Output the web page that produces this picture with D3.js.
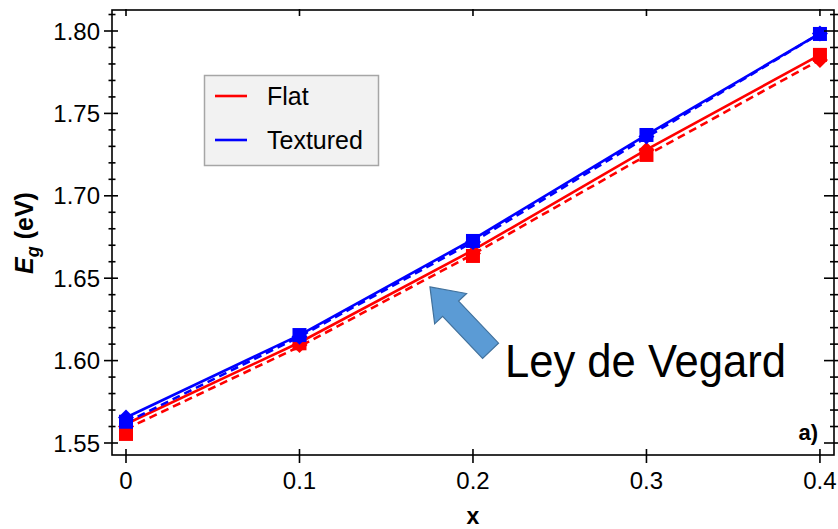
<!DOCTYPE html>
<html><head><meta charset="utf-8">
<script src="https://cdn.jsdelivr.net/npm/d3@7/dist/d3.min.js"></script>
<style>body{margin:0;background:#fff;} svg{display:block;font-family:"Liberation Sans",Arial,sans-serif;}</style>
</head><body>
<svg id="c" width="838" height="529"></svg>
<script>
const xValues = [0, 0.1, 0.2, 0.3, 0.4];
const xTickLabels = ["0", "0.1", "0.2", "0.3", "0.4"];
const yTickValues = [1.55, 1.60, 1.65, 1.70, 1.75, 1.80];
const yTickLabels = ["1.55", "1.60", "1.65", "1.70", "1.75", "1.80"];
// lines
const flatSolid   = [1.5615, 1.6110, 1.6670, 1.7280, 1.7855];
const flatDashed  = [1.5585, 1.6085, 1.6645, 1.7245, 1.7825];
const texSolid    = [1.5655, 1.6155, 1.6735, 1.7370, 1.7985];
const texDashed   = [1.5625, 1.6145, 1.6720, 1.7355, 1.7985];
// markers
const flatSquares  = [1.5555, 1.6105, 1.6635, 1.7248, 1.7855];
const flatDiamonds = [1.5600, 1.6095, 1.6650, 1.7278, 1.7824];
const texSquares   = [1.5629, 1.6155, 1.6726, 1.7369, 1.7982];
const texDiamonds  = [1.5655, 1.6145, 1.6720, 1.7360, 1.7985];
const legendLabels = ["Flat", "Textured"];
const colors = {flat: "#ff0000", tex: "#0000ff"};

const svg = d3.select("#c");
const L = 112, R = 834, T = 10, B = 455;
const x = d3.scaleLinear().domain([-0.00807, 0.4081]).range([L, R]);
const y = d3.scaleLinear().domain([1.55, 1.80]).range([443, 31]);

const line = d3.line().x((d, i) => x(xValues[i])).y(d => y(d));
function drawLine(vals, color, dashed) {
  svg.append("path").datum(vals).attr("d", line)
    .attr("fill", "none").attr("stroke", color).attr("stroke-width", 2.6)
    .attr("stroke-dasharray", dashed ? "8,5" : null);
}
function drawSquares(vals, color) {
  svg.append("g").selectAll("rect").data(vals).join("rect")
    .attr("x", (d, i) => x(xValues[i]) - 7).attr("y", d => y(d) - 7)
    .attr("width", 14).attr("height", 14).attr("fill", color);
}
function drawDiamonds(vals, color) {
  svg.append("g").selectAll("path").data(vals).join("path")
    .attr("d", (d, i) => { const cx = x(xValues[i]), cy = y(d), r = 8;
      return `M${cx},${cy - r}L${cx + r},${cy}L${cx},${cy + r}L${cx - r},${cy}Z`; })
    .attr("fill", color);
}
drawLine(flatDashed, colors.flat, true);
drawLine(flatSolid, colors.flat, false);
drawSquares(flatSquares, colors.flat);
drawDiamonds(flatDiamonds, colors.flat);
drawLine(texDashed, colors.tex, true);
drawLine(texSolid, colors.tex, false);
drawSquares(texSquares, colors.tex);
drawDiamonds(texDiamonds, colors.tex);

// frame
const ax = svg.append("g").attr("stroke", "#000").attr("stroke-width", 1.6).attr("fill", "none");
ax.append("rect").attr("x", L).attr("y", T).attr("width", R - L).attr("height", B - T);

const yMinor = d3.range(0, 27).map(i => 1.55 + i * 0.01).filter(v => y(v) >= T && !yTickValues.some(t => Math.abs(t - v) < 1e-6));
yTickValues.forEach(v => {
  ax.append("line").attr("x1", L - 8).attr("x2", L + 6).attr("y1", y(v)).attr("y2", y(v));
  ax.append("line").attr("x1", R - 10).attr("x2", R + 4).attr("y1", y(v)).attr("y2", y(v));
});
yMinor.forEach(v => {
  ax.append("line").attr("x1", L - 3.5).attr("x2", L + 3.5).attr("y1", y(v)).attr("y2", y(v));
  ax.append("line").attr("x1", R - 4).attr("x2", R + 4).attr("y1", y(v)).attr("y2", y(v));
});
xValues.forEach(v => {
  ax.append("line").attr("x1", x(v)).attr("x2", x(v)).attr("y1", B - 6).attr("y2", B + 8);
  ax.append("line").attr("x1", x(v)).attr("x2", x(v)).attr("y1", T - 1).attr("y2", T + 6);
});

// tick labels
svg.append("g").selectAll("text").data(yTickValues).join("text")
  .attr("x", 100).attr("y", d => y(d) + 8.5).attr("text-anchor", "end")
  .attr("font-size", 24).text((d, i) => yTickLabels[i]);
svg.append("g").selectAll("text").data(xValues).join("text")
  .attr("x", d => x(d)).attr("y", 489).attr("text-anchor", "middle")
  .attr("font-size", 24).text((d, i) => xTickLabels[i]);

// axis titles
svg.append("text").attr("x", x(0.2)).attr("y", 524).attr("text-anchor", "middle")
  .attr("font-size", 23).attr("font-weight", "bold").text("x");
const yl = svg.append("text").attr("transform", "translate(33,233) rotate(-90)")
  .attr("text-anchor", "middle").attr("font-size", 25).attr("font-weight", "bold");
yl.append("tspan").attr("font-style", "italic").text("E");
yl.append("tspan").attr("font-style", "italic").attr("font-size", 18).attr("dy", 6).text("g");
yl.append("tspan").attr("dy", -6).text(" (eV)");

// legend
const lg = svg.append("g");
lg.append("rect").attr("x", 204.5).attr("y", 75.5).attr("width", 174).attr("height", 90)
  .attr("fill", "#f2f2f2").attr("stroke", "#a6a6a6").attr("stroke-width", 1.5);
legendLabels.forEach((lab, i) => {
  const yy = 96 + i * 44;
  lg.append("line").attr("x1", 215).attr("x2", 247).attr("y1", yy).attr("y2", yy)
    .attr("stroke", i === 0 ? colors.flat : colors.tex).attr("stroke-width", 2.6);
  lg.append("text").attr("x", 267).attr("y", yy + 9).attr("font-size", 25).text(lab);
});

// arrow annotation (tip anchored in data coords)
const tipX = x(0.1752), tipY = y(1.6447);
const ang = Math.atan2(60, 57) * 180 / Math.PI;
const arrow = svg.append("g").attr("transform", `translate(${tipX},${tipY}) rotate(${ang})`);
arrow.append("path")
  .attr("d", "M0,0 L30,-22 L30,-11 L88,-11 L88,11 L30,11 L30,22 Z")
  .attr("fill", "#5b9bd5").attr("stroke", "#41719c").attr("stroke-width", 1.2);

svg.append("text").attr("x", 505).attr("y", 377).attr("font-size", 46)
  .attr("textLength", 281).attr("lengthAdjust", "spacingAndGlyphs")
  .attr("fill", "#000").text("Ley de Vegard");
svg.append("text").attr("x", 818).attr("y", 440).attr("text-anchor", "end")
  .attr("font-size", 22).attr("font-weight", "bold").text("a)");
</script>
</body></html>
